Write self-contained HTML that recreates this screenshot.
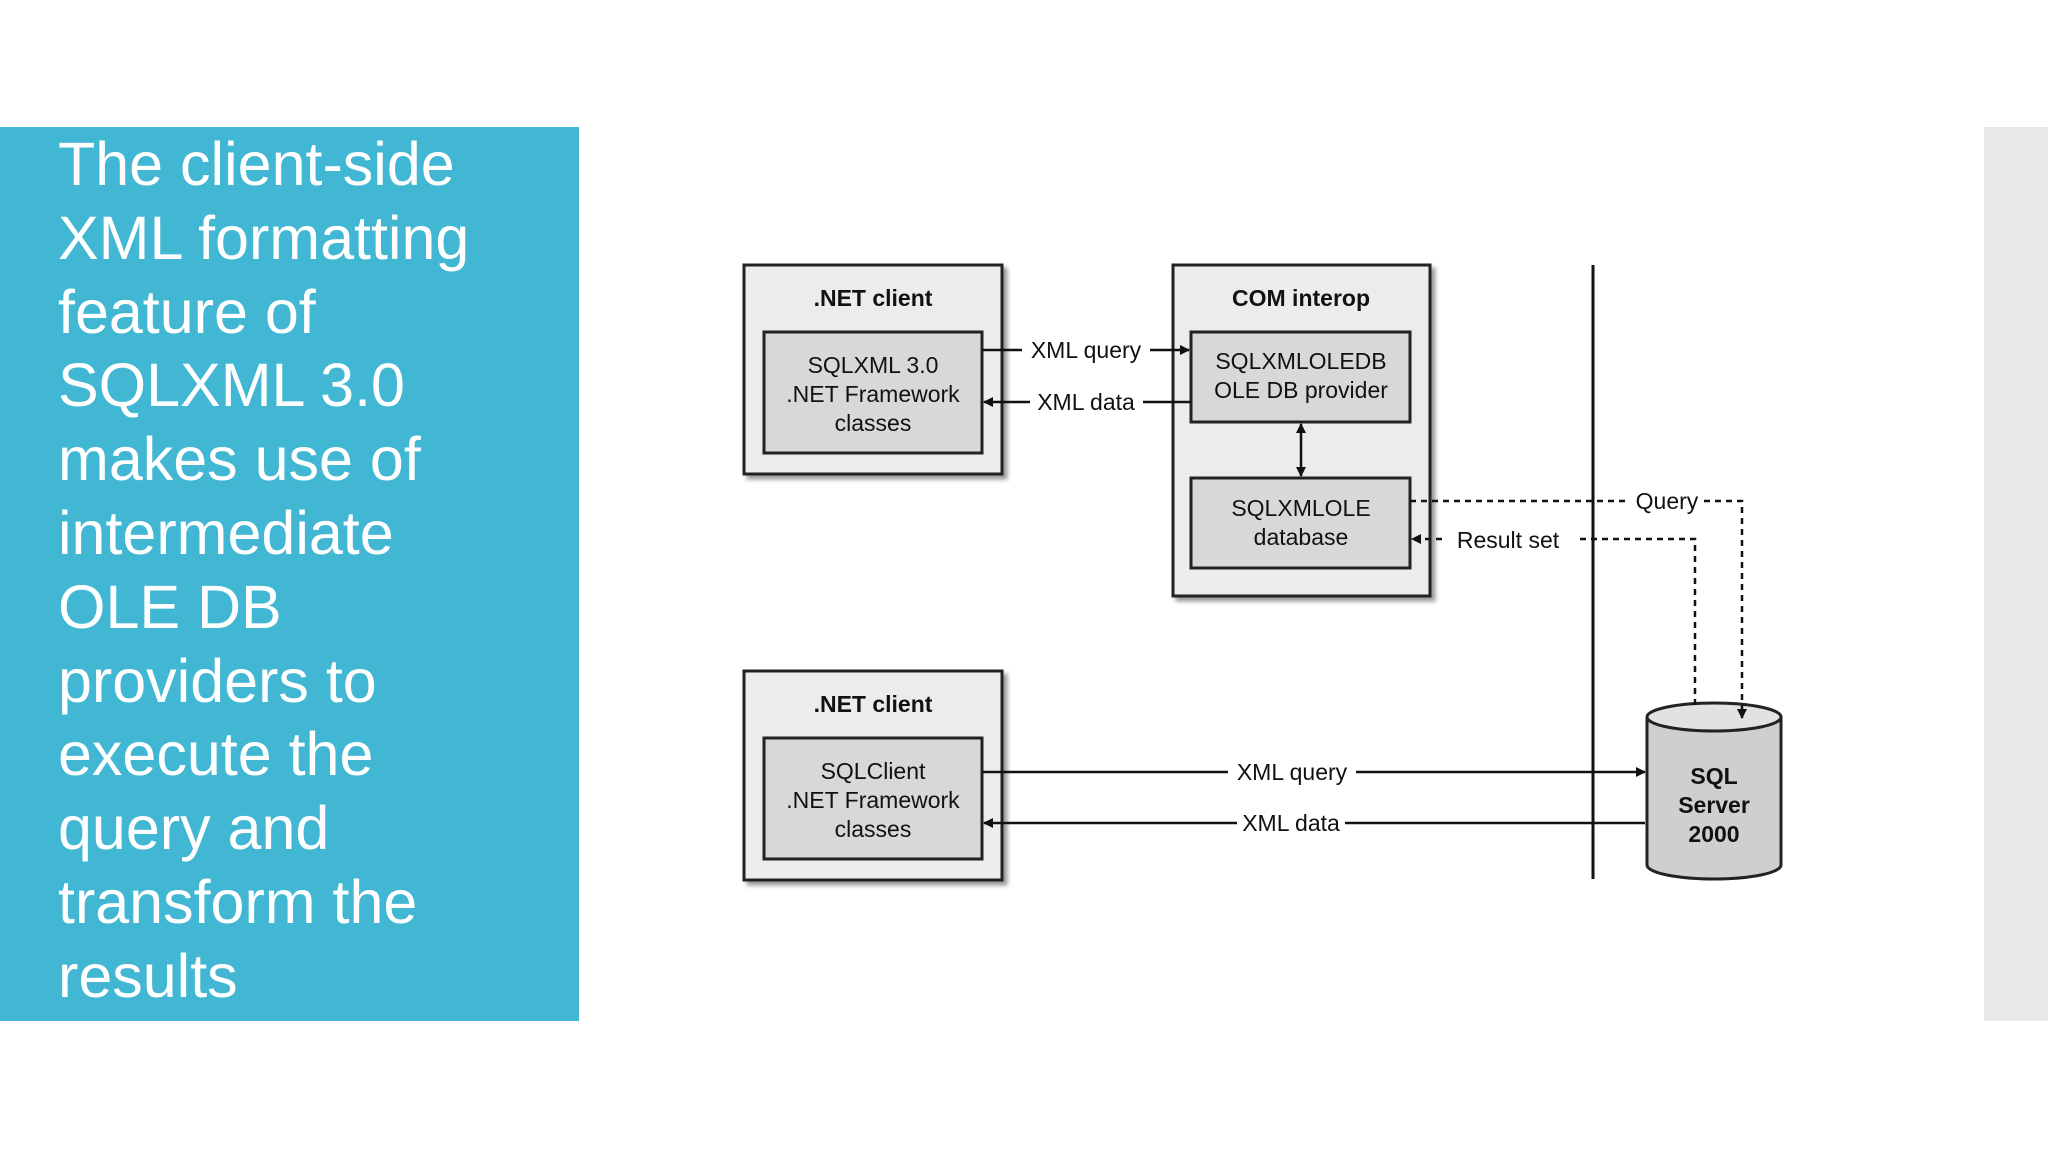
<!DOCTYPE html>
<html><head><meta charset="utf-8"><style>
html,body{margin:0;padding:0;width:2048px;height:1152px;background:#fff;overflow:hidden;position:relative}
.panel{position:absolute;left:0;top:127px;width:579px;height:894px;background:#41b7d3}
.gray{position:absolute;left:1984px;top:127px;width:64px;height:894px;background:#e8e8e8}
.txt{position:absolute;left:58px;top:128px;color:#fff;font-family:"Liberation Sans",sans-serif;font-size:61px;line-height:73.8px;letter-spacing:0px}
svg{position:absolute;left:0;top:0}
</style></head><body>
<div class="panel"></div>
<div class="gray"></div>
<div class="txt">The client-side<br>XML formatting<br>feature of<br>SQLXML 3.0<br>makes use of<br>intermediate<br>OLE DB<br>providers to<br>execute the<br>query and<br>transform the<br>results</div>
<svg width="2048" height="1152" font-family="Liberation Sans, sans-serif" font-size="23">
<defs>
<marker id="a" markerWidth="10" markerHeight="10" refX="9" refY="5" orient="auto-start-reverse" markerUnits="userSpaceOnUse"><path d="M0,0 L10,5 L0,10 z" fill="#111"/></marker>
<filter id="s"><feDropShadow dx="4" dy="4" stdDeviation="2" flood-color="#999"/></filter>
</defs>
<g stroke="#222" stroke-width="3">
<rect x="744" y="265" width="258" height="209" fill="#ececec" filter="url(#s)"/>
<rect x="764" y="332" width="218" height="121" fill="#d8d8d8"/>
<rect x="1173" y="265" width="257" height="331" fill="#ececec" filter="url(#s)"/>
<rect x="1191" y="332" width="219" height="90" fill="#d8d8d8"/>
<rect x="1191" y="478" width="219" height="90" fill="#d8d8d8"/>
<rect x="744" y="671" width="258" height="209" fill="#ececec" filter="url(#s)"/>
<rect x="764" y="738" width="218" height="121" fill="#d8d8d8"/>
<path d="M1647,717 L1647,865 A67,14 0 0 0 1781,865 L1781,717" fill="#cfcfcf"/>
<ellipse cx="1714" cy="717" rx="67" ry="14" fill="#e2e2e2"/>
</g>
<line x1="1593" y1="265" x2="1593" y2="879" stroke="#111" stroke-width="3"/>
<g stroke="#111" stroke-width="2.5" fill="none">
<line x1="982" y1="350" x2="1022" y2="350"/><line x1="1150" y1="350" x2="1189" y2="350" marker-end="url(#a)"/>
<line x1="1191" y1="402" x2="1143" y2="402"/><line x1="1030" y1="402" x2="984" y2="402" marker-end="url(#a)"/>
<line x1="1301" y1="424" x2="1301" y2="476" marker-end="url(#a)" marker-start="url(#a)"/>
<line x1="982" y1="772" x2="1228" y2="772"/><line x1="1356" y1="772" x2="1645" y2="772" marker-end="url(#a)"/>
<line x1="1645" y1="823" x2="1345" y2="823"/><line x1="1237" y1="823" x2="984" y2="823" marker-end="url(#a)"/>
<g stroke-dasharray="6,5">
<polyline points="1410,501 1630,501"/><polyline points="1704,501 1742,501 1742,718" marker-end="url(#a)"/>
<polyline points="1695,705 1695,539 1575,539"/><line x1="1442" y1="539" x2="1412" y2="539" marker-end="url(#a)"/>
</g>
</g>
<g fill="#111" text-anchor="middle">
<text x="873" y="306" font-weight="bold">.NET client</text>
<text x="873" y="373">SQLXML 3.0</text><text x="873" y="402">.NET Framework</text><text x="873" y="431">classes</text>
<text x="1301" y="306" font-weight="bold">COM interop</text>
<text x="1301" y="369">SQLXMLOLEDB</text><text x="1301" y="398">OLE DB provider</text>
<text x="1301" y="516">SQLXMLOLE</text><text x="1301" y="545">database</text>
<text x="1086" y="358">XML query</text><text x="1086" y="410">XML data</text>
<text x="1667" y="509">Query</text><text x="1508" y="548">Result set</text>
<text x="873" y="712" font-weight="bold">.NET client</text>
<text x="873" y="779">SQLClient</text><text x="873" y="808">.NET Framework</text><text x="873" y="837">classes</text>
<text x="1292" y="780">XML query</text><text x="1291" y="831">XML data</text>
<text x="1714" y="784" font-weight="bold">SQL</text><text x="1714" y="813" font-weight="bold">Server</text><text x="1714" y="842" font-weight="bold">2000</text>
</g>
</svg>
</body></html>
